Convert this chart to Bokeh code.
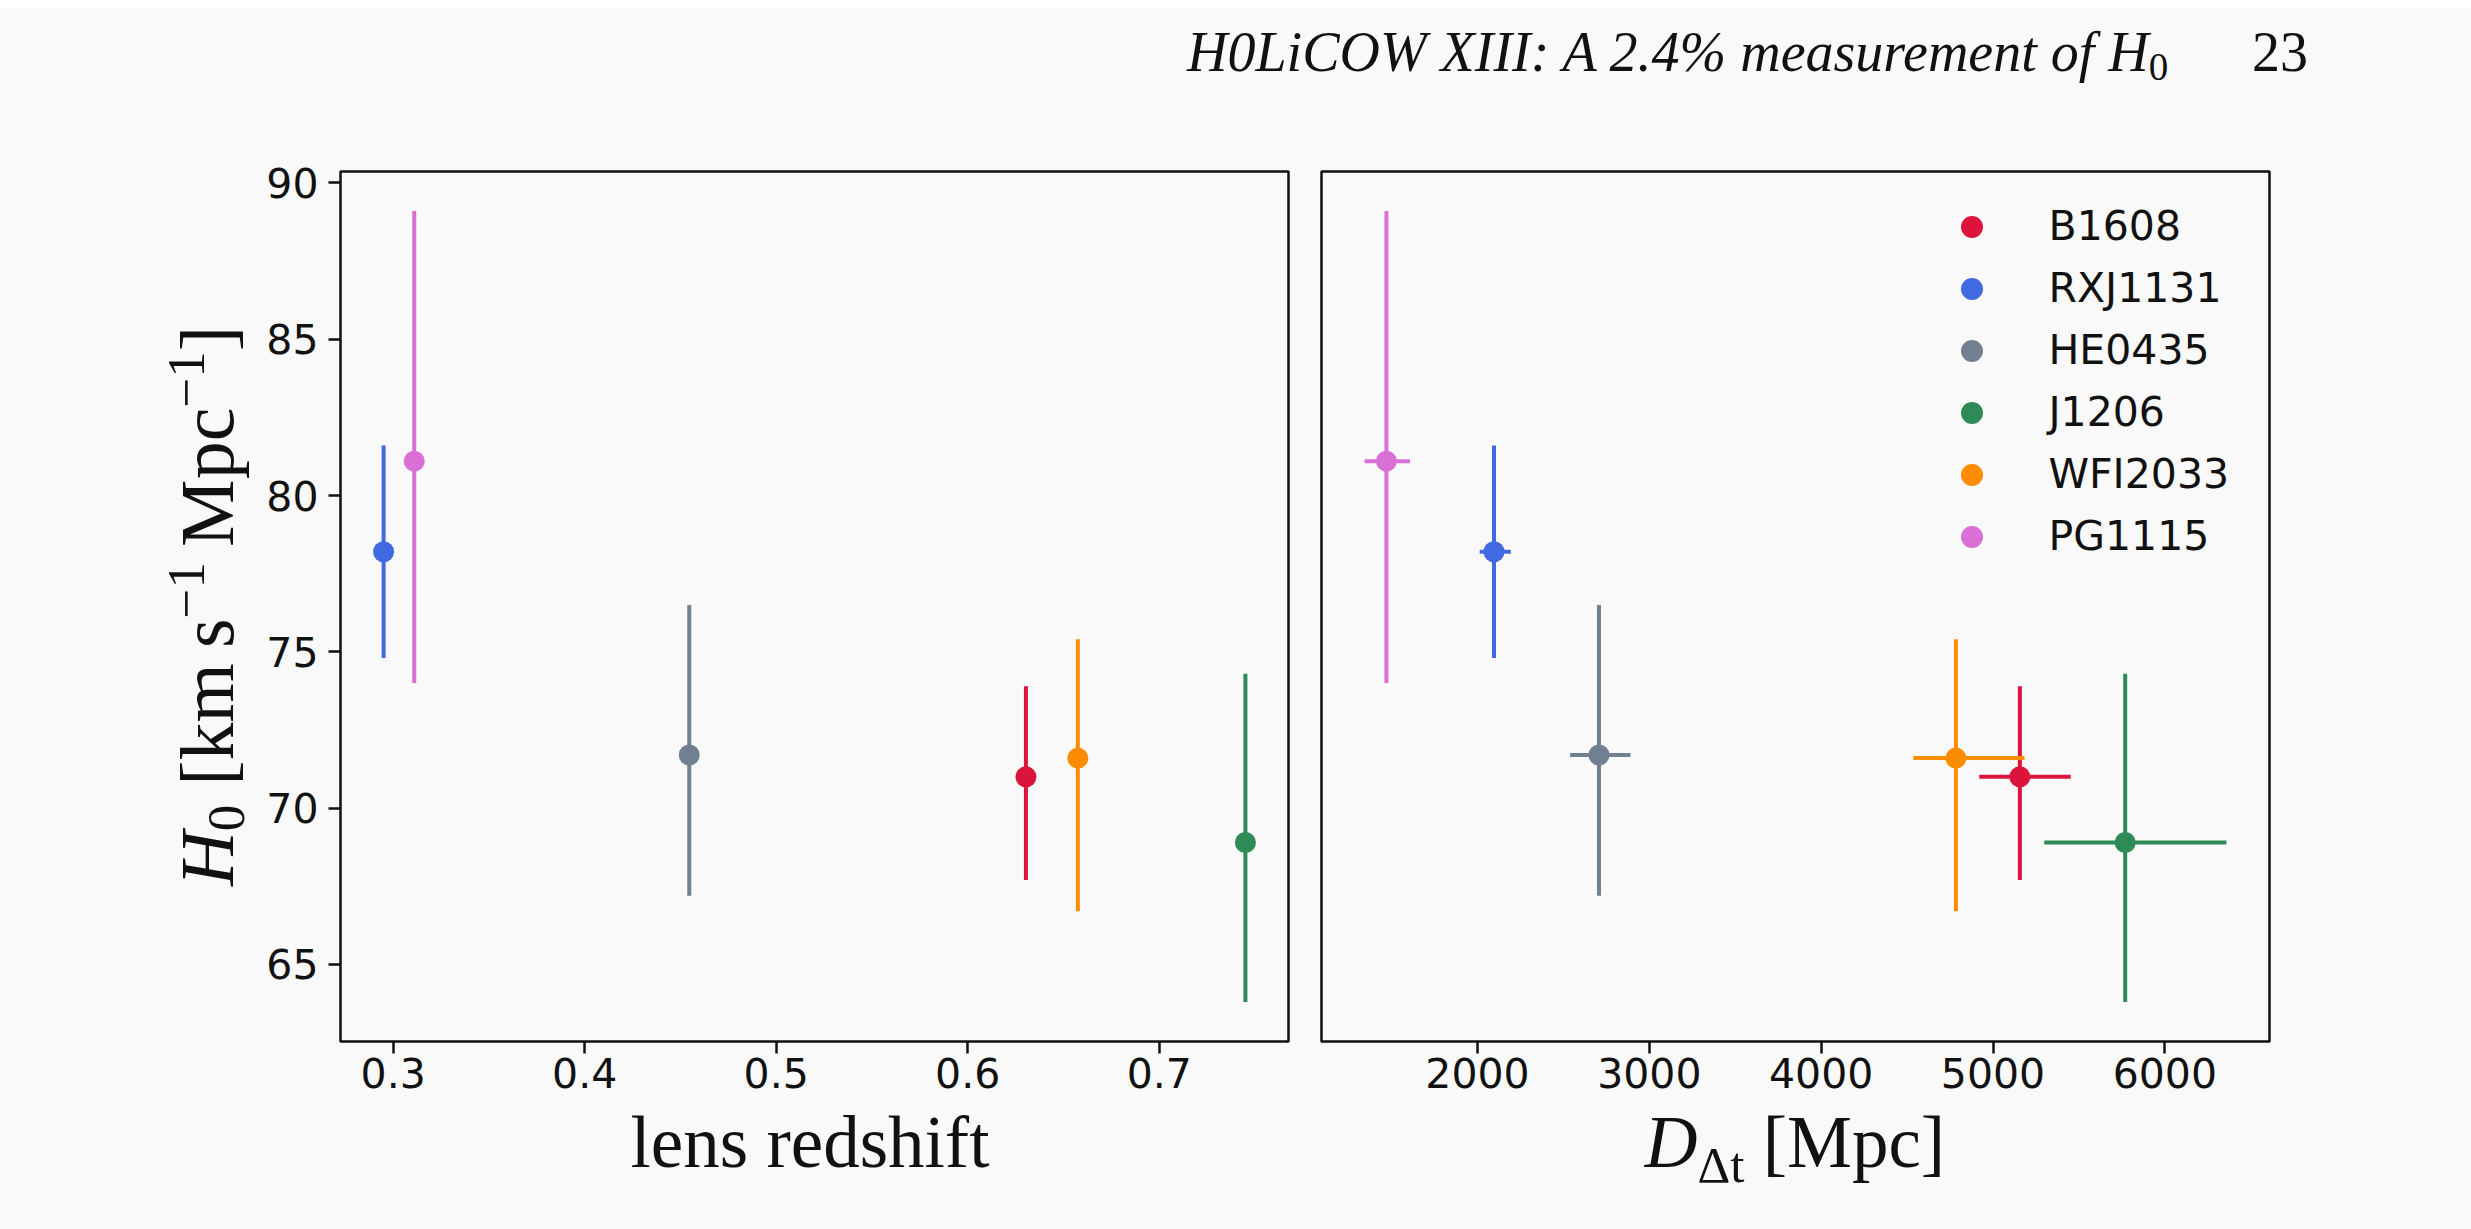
from bokeh.plotting import figure
from bokeh.models import (ColumnDataSource, Range1d, FixedTicker, Legend,
                          LegendItem, Div)
from bokeh.layouts import row, column
from bokeh.embed import file_html
from bokeh.resources import INLINE

# ---------------- data ----------------
lenses = ["B1608", "RXJ1131", "HE0435", "J1206", "WFI2033", "PG1115"]
colors = ["crimson", "royalblue", "slategray", "seagreen", "darkorange", "orchid"]
z_lens = [0.6304, 0.295, 0.4546, 0.745, 0.6575, 0.311]
h0 = [71.0, 78.2, 71.7, 68.9, 71.6, 81.1]
h0_lo = [3.3, 3.4, 4.5, 5.1, 4.9, 7.1]
h0_hi = [2.9, 3.4, 4.8, 5.4, 3.8, 8.0]
ddt = [5156, 2096, 2707, 5769, 4784, 1470]
ddt_lo = [236, 83, 168, 471, 248, 127]
ddt_hi = [296, 98, 183, 589, 399, 137]
z_ticks = [0.3, 0.4, 0.5, 0.6, 0.7]
ddt_ticks = [2000, 3000, 4000, 5000, 6000]
h0_ticks = [65, 70, 75, 80, 85, 90]

BG = "#f9f9f9"
INK = "#111111"
PAGE_W, PAGE_H = 2471, 1229
FW, FH = 948, 870
HEADER_H = 110
FRAME_TOP = 171
BORDER_BOTTOM = 70
FIG_H = (FRAME_TOP - HEADER_H) + FH + BORDER_BOTTOM
YLAB_W = 260
P1_FRAME_LEFT = 340
P1_RIGHT_BORDER = 10
P1_RIGHT_EDGE = P1_FRAME_LEFT + FW + P1_RIGHT_BORDER
P2_FRAME_LEFT = 1321
FOOT_H = PAGE_H - HEADER_H - FIG_H


def padded(lo, hi, f=0.05):
    d = hi - lo
    return lo - f * d, hi + f * d


ylo = min(h - e for h, e in zip(h0, h0_lo))
yhi = max(h + e for h, e in zip(h0, h0_hi))
yr = padded(ylo, yhi)
xr1 = padded(min(z_lens), max(z_lens))
xr2 = padded(min(d - e for d, e in zip(ddt, ddt_lo)), max(d + e for d, e in zip(ddt, ddt_hi)))


def make_fig(xr, left, right):
    p = figure(frame_width=FW, frame_height=FH,
               x_range=Range1d(*xr), y_range=Range1d(*yr),
               output_backend="svg", toolbar_location=None,
               min_border_left=left, min_border_right=right,
               min_border_top=FRAME_TOP - HEADER_H, min_border_bottom=BORDER_BOTTOM,
               background_fill_color=BG, border_fill_color=BG,
               styles={"background-color": BG})
    p.xgrid.visible = False
    p.ygrid.visible = False
    p.outline_line_color = INK
    p.outline_line_width = 2.5
    for ax in (p.xaxis[0], p.yaxis[0]):
        ax.axis_line_color = None
        ax.major_tick_line_color = INK
        ax.major_tick_line_width = 2.5
        ax.major_tick_out = 12
        ax.major_tick_in = 0
        ax.minor_tick_line_color = None
        ax.major_label_text_font = "DejaVu Sans"
        ax.major_label_text_font_size = "41px"
        ax.major_label_text_color = INK
    p.xaxis.major_label_standoff = 4
    p.yaxis.major_label_standoff = 10
    p.yaxis.ticker = FixedTicker(ticks=h0_ticks)
    return p


p1 = make_fig(xr1, P1_FRAME_LEFT - YLAB_W, P1_RIGHT_BORDER)
p1.xaxis.ticker = FixedTicker(ticks=z_ticks)

p2 = make_fig(xr2, P2_FRAME_LEFT - P1_RIGHT_EDGE, PAGE_W - P2_FRAME_LEFT - FW)
p2.xaxis.ticker = FixedTicker(ticks=ddt_ticks)
p2.yaxis.visible = False

legend_items = []
for i, name in enumerate(lenses):
    src = ColumnDataSource(dict(
        z=[z_lens[i]], h=[h0[i]], d=[ddt[i]],
        hl=[h0[i] - h0_lo[i]], hh=[h0[i] + h0_hi[i]],
        dl=[ddt[i] - ddt_lo[i]], dh=[ddt[i] + ddt_hi[i]]))
    c = colors[i]
    p1.segment(x0="z", x1="z", y0="hl", y1="hh", source=src, line_color=c, line_width=4)
    p1.scatter(x="z", y="h", source=src, size=21, fill_color=c, line_color=None)
    p2.segment(x0="d", x1="d", y0="hl", y1="hh", source=src, line_color=c, line_width=4)
    p2.segment(x0="dl", x1="dh", y0="h", y1="h", source=src, line_color=c, line_width=4)
    r = p2.scatter(x="d", y="h", source=src, size=21, fill_color=c, line_color=None)
    legend_items.append(LegendItem(label=name, renderers=[r]))

legend = Legend(items=legend_items, location=(622.5, 477.5),
                glyph_width=55, glyph_height=55, label_height=55,
                spacing=7, label_standoff=50, padding=0, margin=0,
                border_line_color=None, background_fill_alpha=0,
                label_text_font="DejaVu Sans", label_text_font_size="41px",
                label_text_color=INK)
p2.add_layout(legend)

# ---------------- typeset texts (HTML) ----------------
SERIF = "font-family:'Liberation Serif','Times New Roman',serif;color:#111;"


def base_off(font_px, line_px):
    # distance from line-box top to alphabetic baseline for Liberation Serif
    return (line_px - 1.107 * font_px) / 2 + 0.891 * font_px


def px(v):
    return "{:.1f}px".format(v)


header_html = (
    '<div style="position:relative;width:' + px(PAGE_W) + ';height:' + px(HEADER_H) + ';'
    + SERIF + 'white-space:nowrap;">'
    '<span style="position:absolute;left:1187px;top:24px;font-size:56px;'
    'line-height:56px;font-style:italic;">H0LiCOW XIII: A 2.4% measurement of H'
    '<sub style="font-size:39px;font-style:normal;vertical-align:-9px;line-height:0;">0</sub></span>'
    '<span style="position:absolute;left:2252px;top:24px;font-size:56px;'
    'line-height:56px;">23</span></div>')
header = Div(text=header_html, width=PAGE_W, height=HEADER_H, margin=0,
             styles={"background": "linear-gradient(#ffffff 0px, #ffffff 8px, " + BG + " 8px)"})

YF = 76
SUP = '<sup style="font-size:53px;vertical-align:29px;line-height:0;">\u22121</sup>'
ylab_html = (
    '<div style="position:relative;width:' + px(YLAB_W) + ';height:' + px(FIG_H) + ';' + SERIF + '">'
    '<span style="position:absolute;left:' + px(233 - base_off(YF, YF))
    + ';top:' + px(606 - HEADER_H) + ';font-size:' + px(YF) + ';line-height:' + px(YF) + ';'
    'white-space:nowrap;transform-origin:0 0;transform:rotate(-90deg) translateX(-50%);">'
    '<i>H</i><sub style="font-size:53px;vertical-align:-11px;line-height:0;">0</sub>'
    ' [km&#8201;s' + SUP + '&#8201;Mpc' + SUP + ']</span></div>')
ylab_div = Div(text=ylab_html, width=YLAB_W, height=FIG_H, margin=0,
               styles={"background-color": BG})

XF = 73
top_x = (1168 - HEADER_H - FIG_H) - base_off(XF, 50)
foot_html = (
    '<div style="position:relative;width:' + px(PAGE_W) + ';height:' + px(FOOT_H) + ';' + SERIF + '">'
    '<span style="position:absolute;left:810px;top:' + px(top_x) + ';font-size:' + px(XF)
    + ';line-height:50px;white-space:nowrap;transform:translateX(-50%);">lens redshift</span>'
    '<span style="position:absolute;left:1795px;top:' + px(top_x) + ';font-size:' + px(XF)
    + ';line-height:50px;white-space:nowrap;transform:translateX(-50%);"><i>D</i>'
    '<sub style="font-size:51px;vertical-align:-15px;line-height:0;">\u0394t</sub> [Mpc]</span></div>')
foot = Div(text=foot_html, width=PAGE_W, height=FOOT_H, margin=0,
           styles={"background-color": BG})

layout = column(header, row(ylab_div, p1, p2, spacing=0, styles={"background-color": BG}),
                foot, spacing=0, styles={"background-color": BG})

html = file_html(layout, INLINE)
html = html.replace("<body>", '<body style="margin:0;background:' + BG + ';">', 1)
with open("out.html", "w") as f:
    f.write(html)
